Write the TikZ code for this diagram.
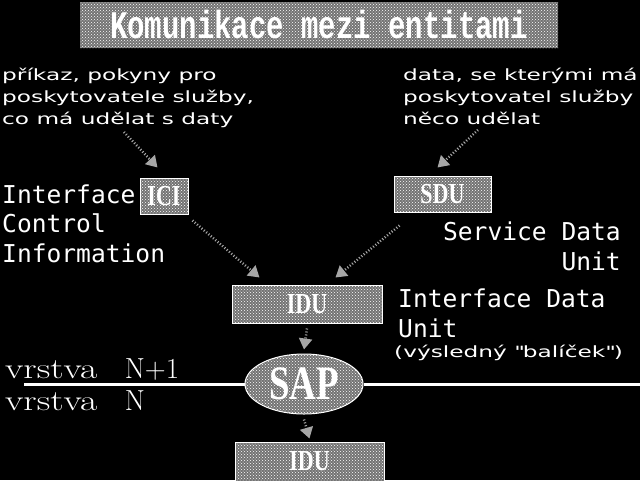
\documentclass[tikz,border=0pt]{standalone}
\usepackage{fontspec}
\usepackage{graphicx}
\usetikzlibrary{patterns,arrows.meta,shapes.geometric,positioning}

\newfontfamily\pixfont[FakeStretch=1.5]{DejaVu Sans}
\newfontfamily\termfont{DejaVu Sans Mono}
\newfontfamily\titlefont{Liberation Mono}
\newfontfamily\boxfont{Liberation Serif}
\newcommand{\narrow}[1]{\scalebox{0.76}[1]{#1}}

\begin{document}
\begin{tikzpicture}[x=1pt, y=-1pt, >={Triangle[width=13pt,length=11pt]},
  dither/.style={preaction={fill=black!55}, pattern=crosshatch dots, pattern color=white},
  unit/.style={dither, draw=white, line width=1pt, text=white, inner sep=0pt,
    font=\boxfont\bfseries\fontsize{29}{29}\selectfont},
  fan/.style={->, draw=white!65!black, line width=2.5pt, dash pattern=on 1pt off 2pt},
  pix/.style={text=white, inner sep=0pt, align=left, font=\pixfont\fontsize{15.5}{22}\selectfont},
  term/.style={text=white, inner sep=0pt, font=\termfont\fontsize{24.6}{29.5}\selectfont},
  layer/.style={text=white, inner sep=0pt, anchor=base west, font=\fontsize{29}{29}\selectfont}]

  % black screen
  \fill[black] (0,0) rectangle (640,480);
  \useasboundingbox (0,0) rectangle (640,480);

  % title
  \node[dither, minimum width=478pt, minimum height=46pt, inner sep=0pt, text=white,
        font=\titlefont\bfseries\fontsize{29}{29}\selectfont] (title) at (319,25)
    {\scalebox{1}[1.35]{Komunikace mezi entitami}};

  % explanations at the top (base = last line)
  \node[pix, anchor=base west] (cmd) at (2,124)
    {příkaz, pokyny pro\\poskytovatele služby,\\co má udělat s daty};
  \node[pix, anchor=base west] (data) at (403,124)
    {data, se kterými má\\poskytovatel služby\\něco udělat};

  % the units
  \node[unit, minimum width=48pt, minimum height=36pt] (ici) at (164,196) {\narrow{ICI}};
  \node[unit, minimum width=97pt, minimum height=36pt] (sdu) at (442.5,194) {\narrow{SDU}};
  \node[unit, minimum width=150pt, minimum height=38pt] (idu) at (307,304) {\narrow{IDU}};
  \node[unit, ellipse, minimum width=118pt, minimum height=60pt,
        font=\boxfont\bfseries\fontsize{48}{48}\selectfont] (sap) at (304,384)
    {\scalebox{0.77}[1]{SAP}};
  \node[unit, minimum width=149pt, minimum height=39pt] (idux) at (309.5,461.5) {\narrow{IDU}};

  % names of the units
  \node[term, anchor=base west, align=left] (icitxt) at (2,262) {Interface\\Control\\Information};
  \node[term, anchor=base east, align=right] (sdutxt) at (621,270) {Service Data\\Unit};
  \node[term, anchor=base west, align=left] (idutxt) at (398,337) {Interface Data\\Unit};
  \node[pix, anchor=base west] (parcel) at (394,357)
    {(výsledný \textquotesingle\textquotesingle balíček\textquotesingle\textquotesingle)};

  % layer boundary
  \node[layer] (upper) at (5,378) {\scalebox{1.3}[1]{vrstva}\hspace{0.95em}N+1};
  \node[layer] (lower) at (5,410) {\scalebox{1.3}[1]{vrstva}\hspace{0.95em}N};
  \coordinate (lineL) at (24,384);
  \coordinate (lineR) at (640,384);
  \draw[white, line width=3pt] (lineL) -- (sap.west) (sap.east) -- (lineR);

  % flows
  \draw[fan] ([xshift=122pt,yshift=-8pt]cmd.base west) -- ([xshift=18pt,yshift=10pt]ici.north west);
  \draw[fan] ([xshift=75pt,yshift=-6pt]data.base west) -- ([xshift=44pt,yshift=8pt]sdu.north west);
  \draw[fan] ([xshift=4pt,yshift=-6pt]ici.south east) -- ([xshift=28pt,yshift=7pt]idu.north west);
  \draw[fan] ([xshift=6pt,yshift=-13pt]sdu.south west) -- ([xshift=-47pt,yshift=7pt]idu.north east);
  \draw[fan] ([yshift=-5pt]idu.south) -- ([yshift=4pt]sap.north);
  \draw[fan] ([yshift=-5pt]sap.south) -- ([yshift=3pt]idux.north);

\end{tikzpicture}
\end{document}
